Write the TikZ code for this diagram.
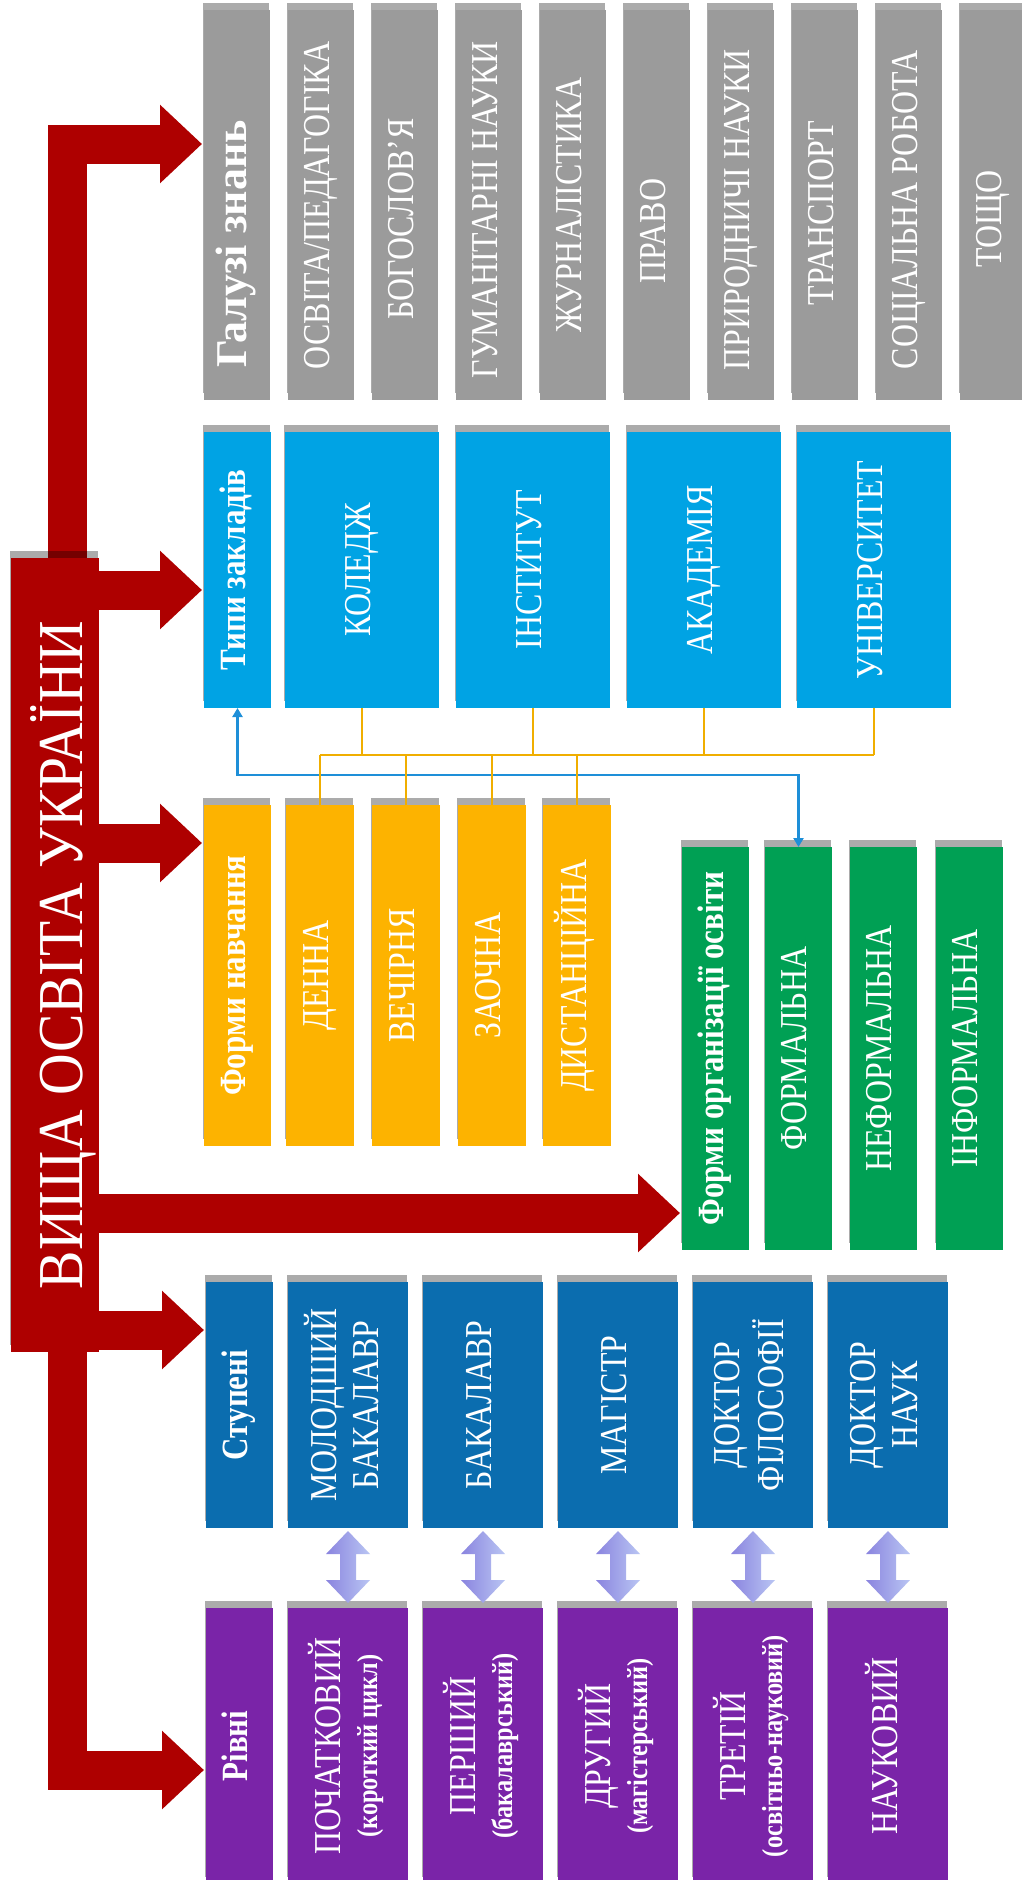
\documentclass[tikz,border=0pt]{standalone}
\usepackage{fontspec}
\usepackage{graphicx}
\setmainfont{Liberation Serif}[FakeStretch=0.84]
\newfontfamily\titlefont{Liberation Serif}[FakeStretch=0.9]
\newfontfamily\widefont{Liberation Serif}
\usetikzlibrary{arrows.meta,shadows,calc}
\pgfdeclarelayer{bg}
\pgfsetlayers{bg,main}
\definecolor{cgray}{HTML}{9B9B9B}
\definecolor{clblue}{HTML}{00A3E4}
\definecolor{corange}{HTML}{FDB300}
\definecolor{cgreen}{HTML}{00A054}
\definecolor{cdblue}{HTML}{0B6DAF}
\definecolor{cpurple}{HTML}{7A24A8}
\definecolor{cred}{HTML}{AE0000}
\definecolor{cline}{HTML}{F0AE00}
\definecolor{cbline}{HTML}{1E8FD8}
\definecolor{clavA}{HTML}{8A84DF}
\definecolor{clavB}{HTML}{B9C5F3}
\newcommand{\vtext}[1]{\rotatebox{90}{\begin{tabular}{@{}c@{}}#1\end{tabular}}}
\newcommand{\mkbox}[7]{\node[#2, anchor=north west, minimum width={(#5)-(#3)}, minimum height={(#6)-(#4)}] (#1) at (#3,#4) {\vtext{#7}};}
\newcommand{\subt}{\bfseries\fontsize{29}{30}\selectfont}
\tikzset{
  box/.style={inner sep=0pt, outer sep=0pt, text=white, font=\fontsize{38}{42}\selectfont,
    drop shadow={shadow xshift=-1pt, shadow yshift=7pt, fill=black, opacity=0.33}},
  hd/.style={font=\bfseries\fontsize{37}{42}\selectfont},
  gbox/.style={box, fill=cgray},
  lbbox/.style={box, fill=clblue},
  obox/.style={box, fill=corange},
  grbox/.style={box, fill=cgreen},
  dbbox/.style={box, fill=cdblue},
  pbox/.style={box, fill=cpurple},
  redarr/.style={draw=cred, line width=39pt, line join=miter, -{Triangle[width=76pt,length=42pt]}, shorten >=2pt},
  oline/.style={draw=cline, line width=2.5pt},
  bline/.style={draw=cbline, line width=2.5pt, {Triangle[width=10pt,length=9pt]}-{Triangle[width=10pt,length=9pt]}},
  lav/.style={left color=clavA, right color=clavB}
}
\begin{document}
\begin{tikzpicture}[x=1pt,y=-1pt]
\useasboundingbox (0,0) rectangle (1022,1880);
% title
\node[box, fill=cred, anchor=north west, minimum width=88, minimum height=794,
  font=\titlefont\fontsize{64}{64}\selectfont] (title) at (11,558)
  {\rotatebox{90}{\raisebox{-8pt}[\height][\depth]{ВИЩА ОСВІТА УКРАЇНИ}}};
% gray column
\mkbox{gh}{gbox, font=\widefont\bfseries\fontsize{44}{46}\selectfont}{204}{10}{270}{400}{Галузі знань\kern78pt}
\mkbox{g1}{gbox}{288}{10}{354}{400}{ОСВІТА/ПЕДАГОГІКА}
\mkbox{g2}{gbox}{372}{10}{438}{400}{БОГОСЛОВ’Я\kern28pt}
\mkbox{g3}{gbox}{456}{10}{522}{400}{ГУМАНІТАРНІ НАУКИ\kern10pt}
\mkbox{g4}{gbox}{540}{10}{606}{400}{ЖУРНАЛІСТИКА}
\mkbox{g5}{gbox}{624}{10}{690}{400}{ПРАВО\kern52pt}
\mkbox{g6}{gbox}{708}{10}{774}{400}{ПРИРОДНИЧІ НАУКИ\kern10pt}
\mkbox{g7}{gbox}{792}{10}{858}{400}{ТРАНСПОРТ\kern16pt}
\mkbox{g8}{gbox}{876}{10}{942}{400}{СОЦІАЛЬНА РОБОТА\kern10pt}
\mkbox{g9}{gbox}{960}{10}{1026}{400}{ТОЩО\kern28pt}
% light blue column
\mkbox{tz}{lbbox,hd}{204}{432}{271}{708}{Типи закладів}
\mkbox{t1}{lbbox}{285}{432}{439}{708}{КОЛЕДЖ}
\mkbox{t2}{lbbox}{456}{432}{610}{708}{ІНСТИТУТ}
\mkbox{t3}{lbbox}{627}{432}{781}{708}{АКАДЕМІЯ}
\mkbox{t4}{lbbox}{797}{432}{951}{708}{УНІВЕРСИТЕТ}
% orange column
\mkbox{fn}{obox,hd}{204}{805}{271}{1146}{Форми навчання}
\mkbox{f1}{obox}{286}{805}{354}{1146}{ДЕННА}
\mkbox{f2}{obox}{372}{805}{440}{1146}{ВЕЧІРНЯ}
\mkbox{f3}{obox}{458}{805}{526}{1146}{ЗАОЧНА}
\mkbox{f4}{obox}{543}{805}{611}{1146}{ДИСТАНЦІЙНА}
% green column
\mkbox{fo}{grbox,hd}{682}{847}{749}{1250}{Форми організації освіти}
\mkbox{o1}{grbox}{765}{847}{832}{1250}{ФОРМАЛЬНА}
\mkbox{o2}{grbox}{850}{847}{917}{1250}{НЕФОРМАЛЬНА}
\mkbox{o3}{grbox}{936}{847}{1003}{1250}{ІНФОРМАЛЬНА}
% dark blue column
\mkbox{st}{dbbox,hd}{206}{1282}{273}{1528}{Ступені}
\mkbox{s1}{dbbox}{288}{1282}{408}{1528}{МОЛОДШИЙ\\БАКАЛАВР}
\mkbox{s2}{dbbox}{423}{1282}{543}{1528}{БАКАЛАВР}
\mkbox{s3}{dbbox}{558}{1282}{678}{1528}{МАГІСТР}
\mkbox{s4}{dbbox}{693}{1282}{813}{1528}{ДОКТОР\\ФІЛОСОФІЇ}
\mkbox{s5}{dbbox}{828}{1282}{948}{1528}{ДОКТОР\\НАУК}
% purple column
\mkbox{rv}{pbox,hd}{206}{1608}{273}{1884}{Рівні}
\mkbox{r1}{pbox, font=\fontsize{38}{37}\selectfont}{288}{1608}{408}{1884}{ПОЧАТКОВИЙ\\{\subt(короткий цикл)}}
\mkbox{r2}{pbox, font=\fontsize{38}{37}\selectfont}{423}{1608}{543}{1884}{ПЕРШИЙ\\{\subt(бакалаврський)}}
\mkbox{r3}{pbox, font=\fontsize{38}{37}\selectfont}{558}{1608}{678}{1884}{ДРУГИЙ\\{\subt(магістерський)}}
\mkbox{r4}{pbox, font=\fontsize{38}{37}\selectfont}{693}{1608}{813}{1884}{ТРЕТІЙ\\{\subt(освітньо-науковий)}}
\mkbox{r5}{pbox}{828}{1608}{948}{1884}{НАУКОВИЙ}
% red arrows (behind)
\begin{pgfonlayer}{bg}
\fill[white] (0,0) rectangle (1022,1880);
\coordinate (sp1) at (67,620);
\coordinate (sp2) at (67,1300);
\coordinate (ya) at (0,144);
\coordinate (yb) at (0,1770);
\coordinate (y1) at (0,590);
\coordinate (y2) at (0,843);
\coordinate (y3) at (0,1213);
\coordinate (y4) at (0,1330);
\draw[redarr] (sp1) |- (gh.west |- ya);
\draw[redarr] (sp2) |- (rv.west |- yb);
\draw[redarr] (title.east |- y1) -- (tz.west |- y1);
\draw[redarr] (title.east |- y2) -- (fn.west |- y2);
\draw[redarr] (title.east |- y3) -- (fo.west |- y3);
\draw[redarr] (title.east |- y4) -- (st.west |- y4);
\end{pgfonlayer}
% connectors
\coordinate (ob) at (0,755);
\coordinate (bb) at (0,775);
\draw[bline] (tz.south) -- (tz.south |- bb) -- (o1.north |- bb) -- (o1.north);
\foreach \n in {t1,t2,t3,t4} \draw[oline] (\n.south) -- (\n.south |- ob);
\foreach \n in {f1,f2,f3,f4} \draw[oline] (\n.north) -- (\n.north |- ob);
\draw[oline] (f1.north |- ob) -- (t4.south |- ob);
% double arrows
\foreach \n in {s1,s2,s3,s4,s5}
  \path[lav] ($(\n.south)+(0,3)$) -- ++(22,23) -- ++(-14,0) -- ++(0,26) -- ++(14,0) -- ++(-22,23)
     -- ++(-22,-23) -- ++(14,0) -- ++(0,-26) -- ++(-14,0) -- cycle;
\end{tikzpicture}
\end{document}
